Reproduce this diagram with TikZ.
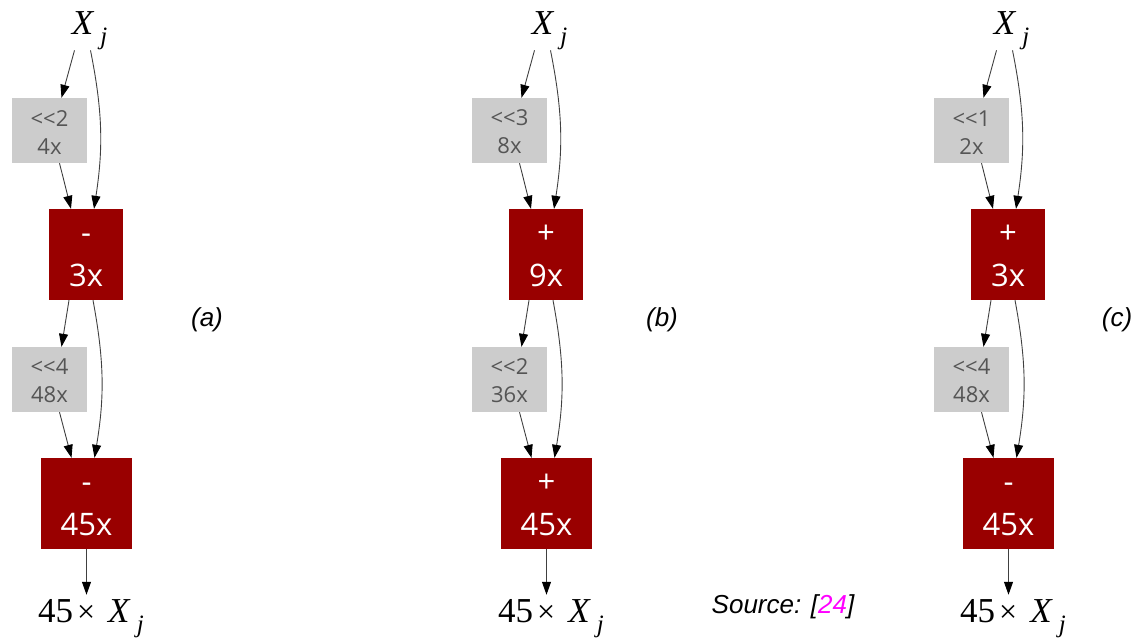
\documentclass[tikz,border=0pt]{standalone}
\usepackage{fontspec}
\setmainfont{Liberation Serif}
\setsansfont{Open Sans}
\newfontfamily\capfont{Liberation Sans}
\usetikzlibrary{arrows.meta}
\definecolor{OpRed}{RGB}{153, 0, 0}
\definecolor{ShiftGray}{RGB}{204, 204, 204}
\definecolor{ShiftText}{RGB}{85, 85, 85}
\definecolor{RefPink}{RGB}{255, 0, 255}
\newcommand{\varXj}{\textit{X}\kern6pt\raisebox{-10pt}{\fontsize{25}{25}\selectfont\textit{j}}}
\newcommand{\timesXj}{45\kern4pt{\fontsize{32}{32}\selectfont×}\kern13pt\varXj}
\newcommand{\opstrut}{\rule{0pt}{22pt}}
\newcommand{\shstrut}{\rule{0pt}{19pt}}

\begin{document}
\begin{tikzpicture}[
    x=1pt, y=-1pt,
    shiftbox/.style={fill=ShiftGray, text=ShiftText, minimum width=75pt, minimum height=65pt, inner sep=0pt, align=center, font=\sffamily\fontsize{22}{28}\selectfont},
    opbox/.style={fill=OpRed, text=white, minimum width=74pt, minimum height=91pt, inner sep=0pt, align=center, font=\sffamily\fontsize{31}{43}\selectfont},
    wideop/.style={opbox, minimum width=91pt},
    var/.style={inner sep=0pt, font=\fontsize{35}{40}\selectfont},
    caption/.style={font=\capfont\itshape\fontsize{26}{30}\selectfont},
    edge/.style={draw=black!75, line width=0.9pt, -{Triangle[length=13pt, width=9pt, color=black]}}
  ]
  \useasboundingbox (0,0) rectangle (1134,637);

  % (a)
  \node[var] (xa) at (89.5,31) {\varXj};
  \node[shiftbox] (sa1) at (49.5,130.5) {\shstrut<{}<2\\4x};
  \node[opbox] (ma1) at (86,254.5) {\opstrut-\\3x};
  \node[shiftbox] (sa2) at (49.5,379.5) {\shstrut<{}<4\\48x};
  \node[wideop] (ma2) at (86.5,503.5) {\opstrut-\\45x};
  \node[var, anchor=base west] (oa) at (38,622) {\timesXj};
  \draw[edge] ([xshift=-15pt]xa.south) -- ([xshift=12pt]sa1.north);
  \draw[edge] ([xshift=1pt]xa.south) to[bend left=10] ([xshift=8pt]ma1.north);
  \draw[edge] ([xshift=10pt]sa1.south) -- ([xshift=-15pt]ma1.north);
  \draw[edge] ([xshift=-17pt]ma1.south) -- ([xshift=12pt]sa2.north);
  \draw[edge] ([xshift=7pt]ma1.south) to[bend left=10] ([xshift=8pt]ma2.north);
  \draw[edge] ([xshift=10pt]sa2.south) -- ([xshift=-15pt]ma2.north);
  \draw[edge, shorten >=4pt] (ma2.south) -- (ma2.south |- oa.north);

  % (b)
  \begin{scope}[xshift=460pt]
    \node[var] (xb) at (89.5,31) {\varXj};
    \node[shiftbox] (sb1) at (49.5,130.5) {\shstrut<{}<3\\8x};
    \node[opbox] (mb1) at (86,254.5) {\opstrut+\\9x};
    \node[shiftbox] (sb2) at (49.5,379.5) {\shstrut<{}<2\\36x};
    \node[wideop] (mb2) at (86.5,503.5) {\opstrut+\\45x};
    \node[var, anchor=base west] (ob) at (38,622) {\timesXj};
    \draw[edge] ([xshift=-15pt]xb.south) -- ([xshift=12pt]sb1.north);
    \draw[edge] ([xshift=1pt]xb.south) to[bend left=10] ([xshift=8pt]mb1.north);
    \draw[edge] ([xshift=10pt]sb1.south) -- ([xshift=-15pt]mb1.north);
    \draw[edge] ([xshift=-17pt]mb1.south) -- ([xshift=12pt]sb2.north);
    \draw[edge] ([xshift=7pt]mb1.south) to[bend left=10] ([xshift=8pt]mb2.north);
    \draw[edge] ([xshift=10pt]sb2.south) -- ([xshift=-15pt]mb2.north);
    \draw[edge, shorten >=4pt] (mb2.south) -- (mb2.south |- ob.north);
  \end{scope}

  % (c)
  \begin{scope}[xshift=922pt]
    \node[var] (xc) at (89.5,31) {\varXj};
    \node[shiftbox] (sc1) at (49.5,130.5) {\shstrut<{}<1\\2x};
    \node[opbox] (mc1) at (86,254.5) {\opstrut+\\3x};
    \node[shiftbox] (sc2) at (49.5,379.5) {\shstrut<{}<4\\48x};
    \node[wideop] (mc2) at (86.5,503.5) {\opstrut-\\45x};
    \node[var, anchor=base west] (oc) at (38,622) {\timesXj};
    \draw[edge] ([xshift=-15pt]xc.south) -- ([xshift=12pt]sc1.north);
    \draw[edge] ([xshift=1pt]xc.south) to[bend left=10] ([xshift=8pt]mc1.north);
    \draw[edge] ([xshift=10pt]sc1.south) -- ([xshift=-15pt]mc1.north);
    \draw[edge] ([xshift=-17pt]mc1.south) -- ([xshift=12pt]sc2.north);
    \draw[edge] ([xshift=7pt]mc1.south) to[bend left=10] ([xshift=8pt]mc2.north);
    \draw[edge] ([xshift=10pt]sc2.south) -- ([xshift=-15pt]mc2.north);
    \draw[edge, shorten >=4pt] (mc2.south) -- (mc2.south |- oc.north);
  \end{scope}

  % captions
  \node[caption] (capa) at (207,320) {(a)};
  \node[caption] (capb) at (662,320) {(b)};
  \node[caption] (capc) at (1117,320) {(c)};
  \node[caption] (src) at (783,607) {Source: [\textcolor{RefPink}{24}]};
\end{tikzpicture}
\end{document}
